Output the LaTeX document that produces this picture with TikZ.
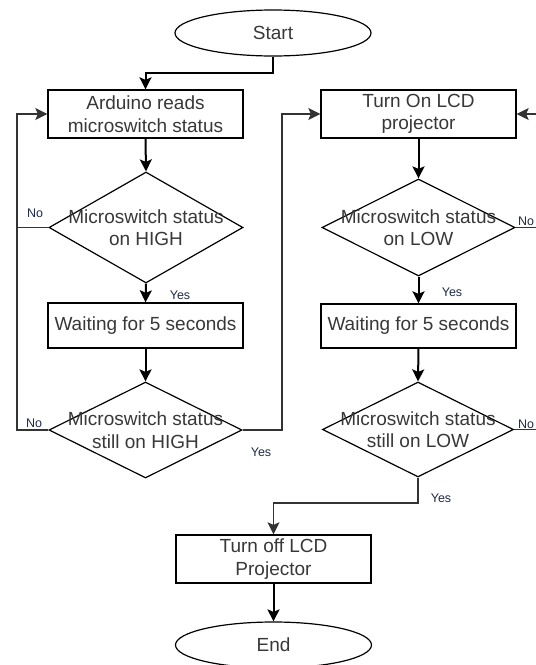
\documentclass[tikz,border=0pt]{standalone}
\usepackage{fontspec}
\setmainfont{Liberation Sans}
\usetikzlibrary{shapes.geometric,arrows.meta}
\definecolor{txtc}{HTML}{383838}
\definecolor{labc}{HTML}{1F2A44}
\definecolor{loopc}{HTML}{333333}
\tikzset{
  procbox/.style={draw=black,line width=1.3pt,rectangle,minimum width=195pt,inner sep=0pt,align=center,text=txtc,font=\fontsize{19}{22.5}\selectfont},
  termbox/.style={draw=black,line width=1.2pt,ellipse,minimum width=196pt,minimum height=46pt,inner sep=0pt,text=txtc,font=\fontsize{19}{22.5}\selectfont},
  decbox/.style={draw=black,line width=1.2pt,diamond,inner sep=0pt},
  dectext/.style={align=center,text=txtc,inner sep=0pt,font=\fontsize{19}{22.5}\selectfont},
  arr/.style={draw=black,line width=2pt,-{Stealth[length=12pt,width=12pt,inset=2.5pt]}},
  loopline/.style={draw=loopc,line width=1.5pt},
  looparr/.style={draw=loopc,line width=1.5pt,-{Stealth[length=12pt,width=12pt,inset=2.5pt]}},
  lab/.style={text=labc,inner sep=0pt,font=\fontsize{12.5}{14}\selectfont}
}
\begin{document}
\begin{tikzpicture}[x=1pt,y=-1pt]
\useasboundingbox[fill=white] (0,0) rectangle (536,665);

% terminals
\node[termbox] (start) at (273,33) {Start};
\node[termbox] (end) at (273.5,645) {End};

% left column
\node[procbox,minimum height=48pt] (box1) at (145.5,114) {Arduino reads\\microswitch status};
\node[decbox,minimum width=194pt,minimum height=111pt] (d1) at (146,227.5) {};
\node[dectext] (d1t) at (d1) {Microswitch status\\on HIGH};
\node[procbox,minimum height=45pt] (box2) at (145.5,325.5) {Waiting for 5 seconds};
\node[decbox,minimum width=193pt,minimum height=96pt] (d2) at (145.5,430) {};
\node[dectext] (d2t) at (d2) {Microswitch status\\still on HIGH};

% right column
\node[procbox,minimum height=48pt] (box3) at (418.5,114) {Turn On LCD\\projector};
\node[decbox,minimum width=193pt,minimum height=97pt] (d3) at (418.5,227.5) {};
\node[dectext] (d3t) at (d3) {Microswitch status\\on LOW};
\node[procbox,minimum height=44pt] (box4) at (418.5,326) {Waiting for 5 seconds};
\node[decbox,minimum width=191pt,minimum height=95pt] (d4) at (418,429.5) {};
\node[dectext] (d4t) at (d4) {Microswitch status\\still on LOW};

% bottom
\node[procbox,minimum height=48pt] (box5) at (273.5,559) {Turn off LCD\\Projector};

% helper coordinates
\coordinate (s1) at (273,73);
\coordinate (s2) at (145.5,73);
\coordinate (l1) at (17,114);
\coordinate (l2) at (17,430);
\coordinate (r1) at (282,430);
\coordinate (r2) at (282,114);
\coordinate (e1) at (536,114);
\coordinate (e2) at (536,227.5);
\coordinate (e3) at (536,429.5);
\coordinate (b1) at (418,503);
\coordinate (b2) at (273.5,503);

% connectors
\draw[arr] (start.south) -- (s1) -- (s2) -- (box1.north);
\draw[arr] (box1.south) -- (d1.north);
\draw[arr] (d1.south) -- (box2.north);
\draw[arr] (box2.south) -- (d2.north);
\draw[loopline] (d1.west) -- (d1.west -| l1);
\draw[looparr] (d2.west) -- (l2) -- (l1) -- (box1.west);
\draw[looparr] (d2.east) -- (r1) -- (r2) -- (box3.west);

\draw[arr] (box3.south) -- (d3.north);
\draw[arr] (d3.south) -- (box4.north);
\draw[arr] (box4.south) -- (d4.north);
\draw[loopline] (d3.east) -- (e2);
\draw[loopline] (d4.east) -- (e3);
\draw[looparr] (e1) -- (box3.east);
\draw[looparr] (d4.south) -- (b1) -- (b2) -- (box5.north);
\draw[arr] (box5.south) -- (end.north);

% labels
\node[lab] (n1) at (35,213) {No};
\node[lab] (y1) at (180,295) {Yes};
\node[lab] (n2) at (34,423) {No};
\node[lab] (y2) at (261,452) {Yes};
\node[lab] (n3) at (526,221) {No};
\node[lab] (y3) at (452,292) {Yes};
\node[lab] (n4) at (526,424) {No};
\node[lab] (y4) at (441,498) {Yes};
\end{tikzpicture}
\end{document}
